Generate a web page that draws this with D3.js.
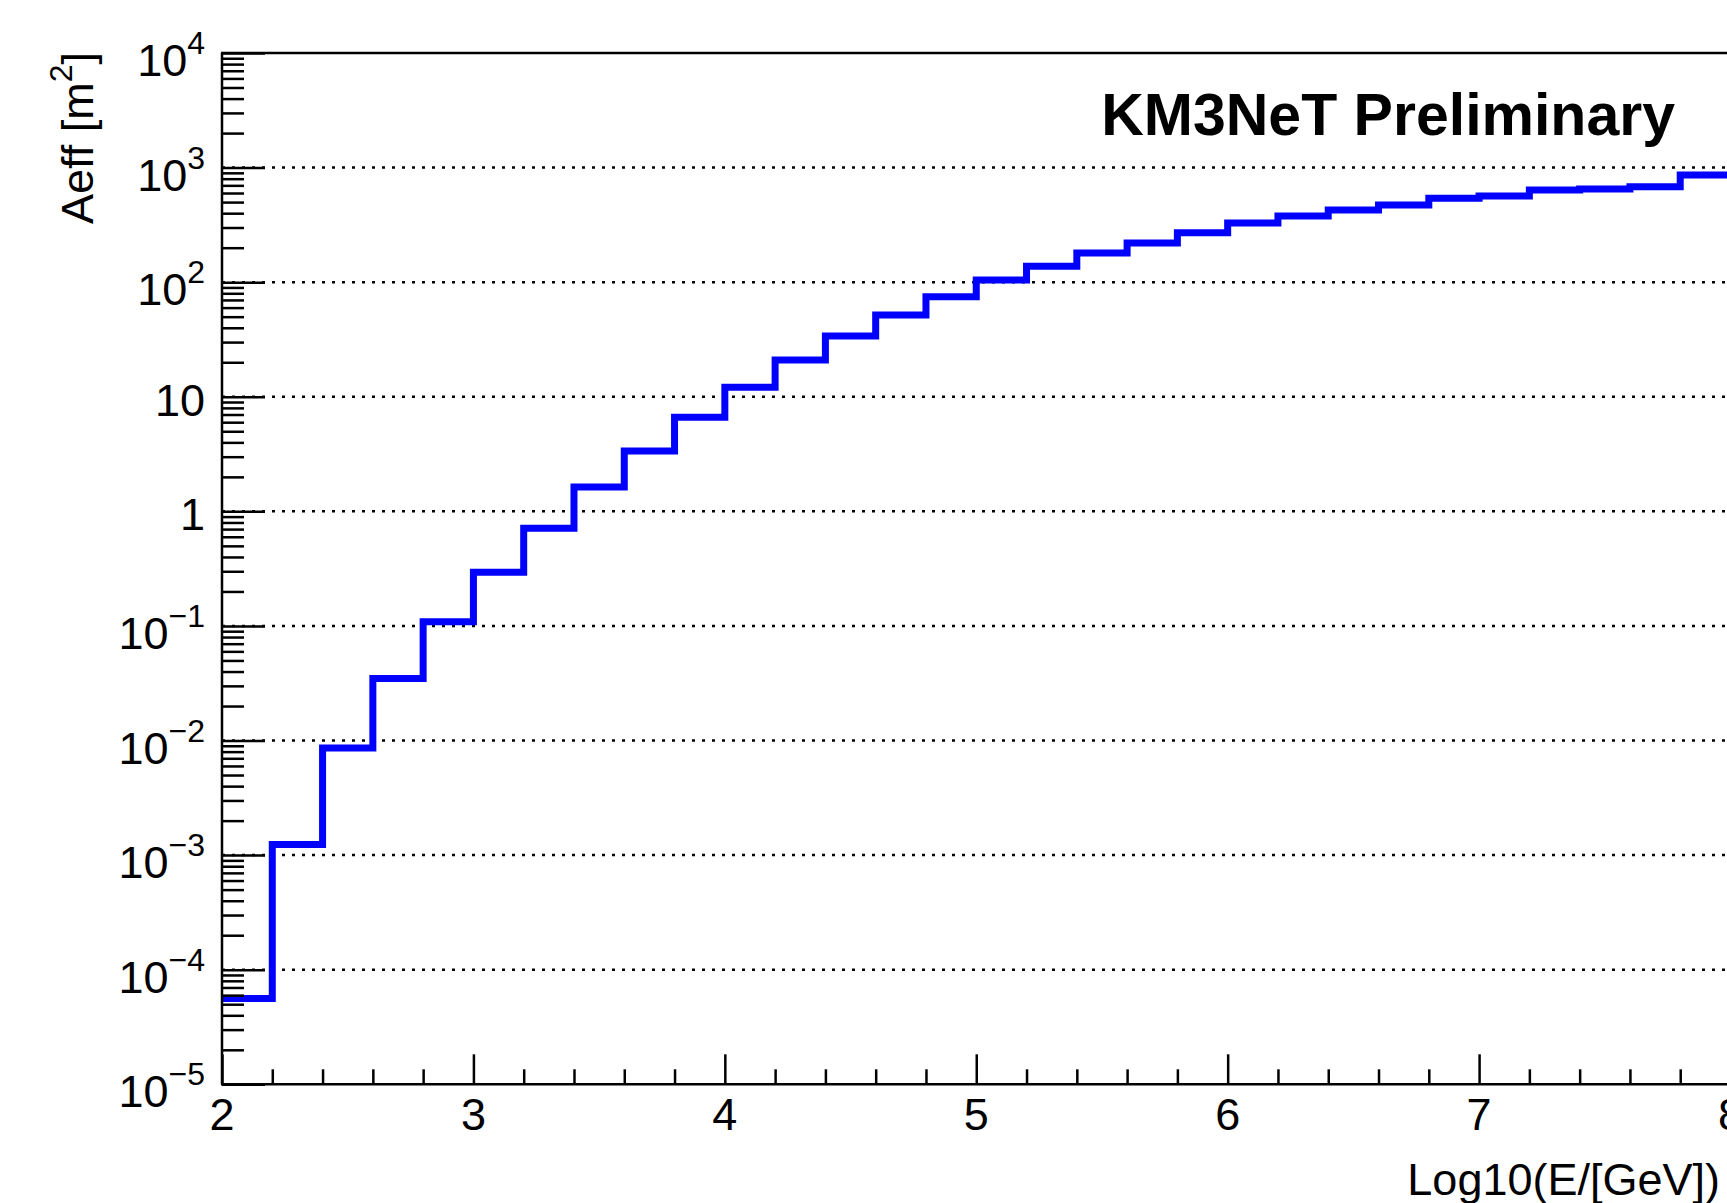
<!DOCTYPE html>
<html>
<head>
<meta charset="utf-8">
<script src="https://cdn.jsdelivr.net/npm/d3@7"></script>
<style>
body { margin:0; background:#fff; }
text { font-family: "Liberation Sans", Arial, Helvetica, sans-serif; fill:#000; }
</style>
</head>
<body>
<svg id="chart" width="1727" height="1203"></svg>
<script>
var	binEdges	= [2.0,2.2,2.4,2.6,2.8,3.0,3.2,3.4,3.6,3.8,4.0,4.2,4.4,4.6,4.8,5.0,5.2,5.4,5.6,5.8,6.0,6.2,6.4,6.6,6.8,7.0,7.2,7.4,7.6,7.8,8.0],
	aeff		= [5.6e-5,1.24e-3,8.6e-3,0.0347,0.109,0.294,0.711,1.63,3.37,6.62,12.1,20.9,33.9,51.7,74.7,104.5,138,180,220,270,328,378,427,472,540,565,638,651,682,862],
	xTicks		= [2,3,4,5,6,7,8],
	xMinorTicks	= [2.2,2.4,2.6,2.8,3.2,3.4,3.6,3.8,4.2,4.4,4.6,4.8,5.2,5.4,5.6,5.8,6.2,6.4,6.6,6.8,7.2,7.4,7.6,7.8],
	yDecades	= [-5,-4,-3,-2,-1,0,1,2,3,4],
	yMinorMult	= [2,3,4,5,6,7,8,9],
	xTitle		= "Log10(E/[GeV])",
	label		= "KM3NeT Preliminary";

var	svg	= d3.select("#chart"),
	x	= d3.scaleLinear().domain([2, 8]).range([222, 1730.5]),
	y	= d3.scaleLog().domain([1e-5, 1e4]).range([1084.3, 53]);

function supLabel(e) {
	if (e == 0) return {base: "1", sup: ""};
	if (e == 1) return {base: "10", sup: ""};
	return {base: "10", sup: (e < 0 ? "\u2212" : "") + Math.abs(e)};
}

var	majors	= yDecades.map(function(e) { return Math.pow(10, e); }),
	minors	= [];
yDecades.slice(0, -1).forEach(function(e) {
	yMinorMult.forEach(function(m) { minors.push(m * Math.pow(10, e)); });
});

// grid
svg.append("g").selectAll("line").data(majors.slice(1, -1)).enter().append("line")
	.attr("x1", x(2)).attr("x2", 1727)
	.attr("y1", function(d) { return y(d); }).attr("y2", function(d) { return y(d); })
	.attr("stroke", "#000").attr("stroke-width", 2.5).attr("stroke-dasharray", "3,7");

// histogram
var	steps	= [];
aeff.forEach(function(v, i) { steps.push([binEdges[i], v]); steps.push([binEdges[i+1], v]); });
svg.append("path").datum(steps)
	.attr("d", d3.line().x(function(d) { return x(d[0]); }).y(function(d) { return y(d[1]); }))
	.attr("fill", "none").attr("stroke", "#0000ff").attr("stroke-width", 7).attr("stroke-linejoin", "miter");

// axes
function tickStyle(g) {
	g.select(".domain").remove();
	g.selectAll(".tick line").attr("stroke", "#000").attr("stroke-width", 2.5);
	g.selectAll(".tick text").remove();
}
svg.append("g").attr("transform", "translate(" + x(2) + ",0)")
	.call(d3.axisRight(y).tickValues(minors).tickSize(22)).call(tickStyle);
svg.append("g").attr("transform", "translate(" + x(2) + ",0)")
	.call(d3.axisRight(y).tickValues(majors).tickSize(43)).call(tickStyle);
svg.append("g").attr("transform", "translate(0," + y(1e-5) + ")")
	.call(d3.axisTop(x).tickValues(xMinorTicks).tickSize(15)).call(tickStyle);
svg.append("g").attr("transform", "translate(0," + y(1e-5) + ")")
	.call(d3.axisTop(x).tickValues(xTicks).tickSize(30)).call(tickStyle);

svg.append("line").attr("x1", x(2)).attr("x2", x(2)).attr("y1", y(1e4)).attr("y2", y(1e-5))
	.attr("stroke", "#000").attr("stroke-width", 2.5);
svg.append("line").attr("x1", x(2) - 1).attr("x2", 1727).attr("y1", y(1e-5)).attr("y2", y(1e-5))
	.attr("stroke", "#000").attr("stroke-width", 2.5);
svg.append("line").attr("x1", x(2) - 1).attr("x2", 1727).attr("y1", y(1e4)).attr("y2", y(1e4))
	.attr("stroke", "#000").attr("stroke-width", 2.5);

// y labels
var	yl	= svg.append("g").selectAll("text").data(yDecades).enter().append("text")
	.attr("x", 205)
	.attr("y", function(e) { return y(Math.pow(10, e)) + (supLabel(e).sup ? 23 : 19); })
	.attr("text-anchor", "end").style("font-size", "45px");
yl.append("tspan").text(function(e) { return supLabel(e).base; });
yl.filter(function(e) { return supLabel(e).sup; }).append("tspan")
	.attr("dy", -22).style("font-size", "32px").text(function(e) { return supLabel(e).sup; });

// x labels
svg.append("g").selectAll("text").data(xTicks).enter().append("text")
	.attr("x", function(d) { return x(d); }).attr("y", 1130)
	.attr("text-anchor", "middle").style("font-size", "45px")
	.text(function(d) { return d; });

// titles
svg.append("text").attr("x", 1720).attr("y", 1195).attr("text-anchor", "end")
	.style("font-size", "45px").text(xTitle);

var	yt	= svg.append("text").attr("transform", "translate(93,52) rotate(-90)")
	.attr("text-anchor", "end").style("font-size", "45px");
yt.append("tspan").text("Aeff [m");
yt.append("tspan").attr("dy", -21).style("font-size", "32px").text("2");
yt.append("tspan").attr("dy", 21).text("]");

svg.append("text").attr("x", 1675).attr("y", 135).attr("text-anchor", "end")
	.style("font-size", "59px").style("font-weight", "bold").text(label);
</script>
</body>
</html>
